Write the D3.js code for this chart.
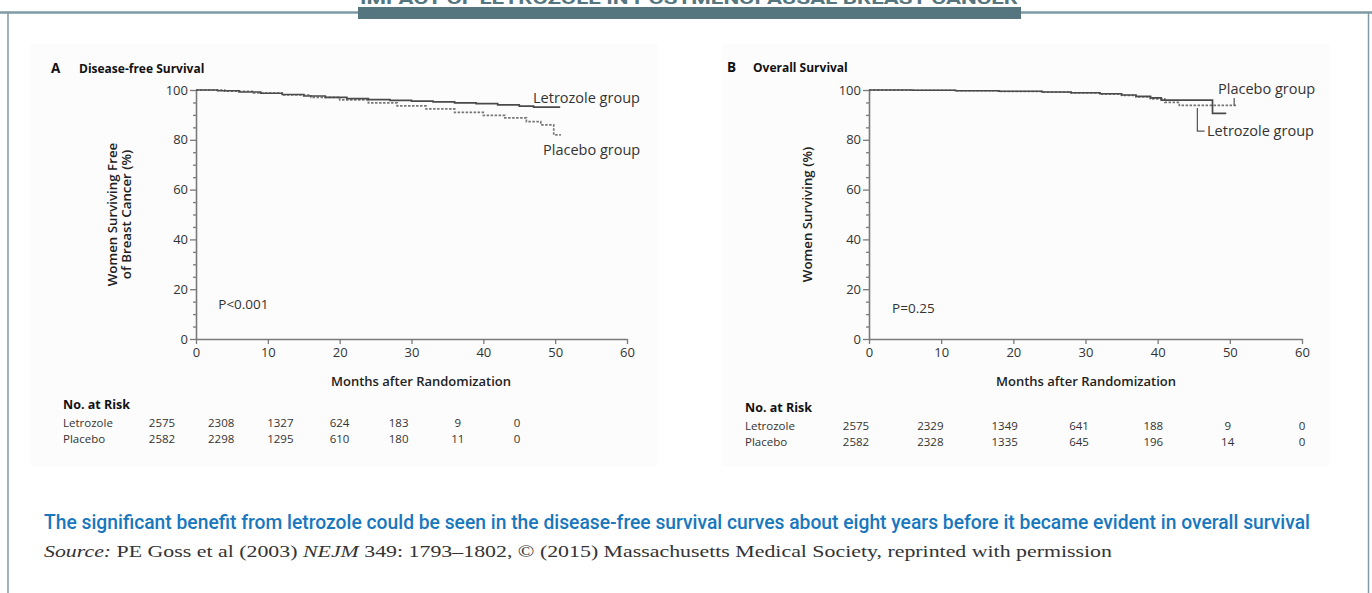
<!DOCTYPE html>
<html><head><meta charset="utf-8">
<script src="https://d3js.org/d3.v7.min.js"></script>
<style>
body{margin:0;background:#fff;}
svg{display:block;}
</style>
</head><body>
<svg id="c" width="1372" height="593"></svg>
<script>
// ---------- data ----------
const monthTicks = [0, 10, 20, 30, 40, 50, 60];
const pctTicks = [0, 20, 40, 60, 80, 100];
const riskGroups = ["Letrozole", "Placebo"];

// Panel A: Disease-free survival (month, %)
const dfsLetrozole = [[0,100],[3,99.7],[6,99.2],[9,98.7],[12,98.2],[15,97.6],[18,97.0],[21,96.5],[24,96.1],[27,95.8],[30,95.5],[33,95.2],[36,94.8],[39,94.5],[42,94.0],[45,93.5],[47,93.1],[50.7,93.1]];
const dfsPlacebo = [[0,100],[4,99.5],[8,98.8],[12,98.0],[16,97.0],[20,96.0],[24,94.8],[28,93.6],[32,92.4],[36,91.0],[40,89.8],[43,88.8],[46,87.3],[48,86.0],[49.8,82.0],[50.8,82.0]];
const dfsRiskLetrozole = [2575, 2308, 1327, 624, 183, 9, 0];
const dfsRiskPlacebo = [2582, 2298, 1295, 610, 180, 11, 0];

// Panel B: Overall survival (month, %)
const osLetrozole = [[0,100],[6,99.9],[12,99.7],[18,99.5],[24,99.2],[28,98.9],[32,98.5],[35,98.0],[37,97.4],[39,96.8],[40.5,95.9],[47.6,90.6],[49.5,90.6]];
const osPlacebo = [[0,100],[6,99.9],[12,99.7],[18,99.4],[24,99.1],[28,98.8],[32,98.3],[35,97.8],[37,97.2],[39,96.4],[41,95.0],[43,93.8],[51,93.8]];
const osRiskLetrozole = [2575, 2329, 1349, 641, 188, 9, 0];
const osRiskPlacebo = [2582, 2328, 1335, 645, 196, 14, 0];

// ---------- drawing ----------
const svg = d3.select("#c");
const FONT = "'Open Sans', 'DejaVu Sans', sans-serif";
const TXT = "#333";
const AX = "#7a7a7a";

// frame + header
const frameCol = "#7f9aa5";
svg.append("line").attr("x1",0).attr("x2",1372).attr("y1",12.5).attr("y2",12.5)
  .attr("stroke",frameCol).attr("stroke-width",2.5);
svg.append("line").attr("x1",8).attr("x2",8).attr("y1",12).attr("y2",593)
  .attr("stroke",frameCol).attr("stroke-width",1.5);
svg.append("line").attr("x1",1368.5).attr("x2",1368.5).attr("y1",12).attr("y2",593)
  .attr("stroke",frameCol).attr("stroke-width",1.5);
svg.append("rect").attr("x",358).attr("y",7).attr("width",663).attr("height",12).attr("fill","#56767f");
svg.append("text").attr("x",360).attr("y",3.5).attr("font-family","Roboto, sans-serif")
  .attr("font-weight",700).attr("font-size",16).attr("fill","#56767f")
  .attr("textLength",658).attr("lengthAdjust","spacingAndGlyphs")
  .text("IMPACT OF LETROZOLE IN POSTMENOPAUSAL BREAST CANCER");

function drawPanel(cfg){
  const g = svg.append("g");
  g.append("rect").attr("x",cfg.box[0]).attr("y",cfg.box[1]).attr("width",cfg.box[2]).attr("height",cfg.box[3])
    .attr("fill","#fcfcfc");
  const x = d3.scaleLinear().domain([0,60]).range(cfg.xr);
  const y = d3.scaleLinear().domain([0,100]).range(cfg.yr);

  // minor y ticks
  const minor = d3.range(0,101,5).filter(v => v % 20 !== 0);
  const gm = g.append("g").attr("transform",`translate(${cfg.xr[0]},0)`)
    .call(d3.axisLeft(y).tickValues(minor).tickSize(3).tickFormat(""));
  gm.select(".domain").remove();
  gm.selectAll("line").attr("stroke",AX).attr("stroke-width",1.3);

  const gy = g.append("g").attr("transform",`translate(${cfg.xr[0]},0)`)
    .call(d3.axisLeft(y).tickValues(pctTicks).tickSize(6).tickSizeOuter(0).tickPadding(2));
  const gx = g.append("g").attr("transform",`translate(0,${cfg.yr[0]})`)
    .call(d3.axisBottom(x).tickValues(monthTicks).tickSize(5).tickSizeOuter(0).tickPadding(4));
  [gx,gy].forEach(a=>{
    a.select(".domain").attr("stroke",AX).attr("stroke-width",1.6);
    a.selectAll(".tick line").attr("stroke",AX).attr("stroke-width",1.3);
    a.selectAll(".tick text").attr("fill",TXT).attr("font-family",FONT).attr("font-size",13);
  });

  // curves
  const line = d3.line().x(d=>x(d[0])).y(d=>y(d[1])).curve(d3.curveStepAfter);
  g.append("path").datum(cfg.placebo).attr("d",line).attr("fill","none")
    .attr("stroke","#777").attr("stroke-width",1.7).attr("stroke-dasharray","2.5,1.5");
  g.append("path").datum(cfg.letrozole).attr("d",line).attr("fill","none")
    .attr("stroke","#4a4a4a").attr("stroke-width",1.7);

  // titles
  const t = g.append("text").attr("x",cfg.titleX).attr("y",cfg.titleY)
    .attr("font-family",FONT).attr("font-weight",700).attr("fill","#111");
  t.append("tspan").attr("font-size",13.5).text(cfg.letter);
  t.append("tspan").attr("x",cfg.titleX+cfg.titleGap).attr("font-size",12).text(cfg.title);

  // y axis title
  const yc = (cfg.yr[0]+cfg.yr[1])/2;
  cfg.yTitle.forEach((s,i)=>{
    g.append("text").attr("transform",`translate(${cfg.yTitleX + i*14},${yc}) rotate(-90)`)
      .attr("text-anchor","middle").attr("font-family",FONT).attr("font-weight",600)
      .attr("font-size",13.3).attr("fill","#222").text(s);
  });
  // x axis title
  g.append("text").attr("x",cfg.xTitleX).attr("y",cfg.yr[0]+47).attr("text-anchor","middle")
    .attr("font-family",FONT).attr("font-weight",600).attr("font-size",13).attr("fill","#222")
    .text("Months after Randomization");

  // P value
  g.append("text").attr("x",x(cfg.pPos[0])).attr("y",y(cfg.pPos[1])).attr("font-family",FONT)
    .attr("font-size",13.5).attr("fill",TXT).text(cfg.p);

  // curve labels
  cfg.labels.forEach(l=>{
    g.append("text").attr("x",l.x).attr("y",l.y).attr("font-family",FONT)
      .attr("font-size",14.5).attr("fill",TXT).text(l.text);
    if(l.leader){
      g.append("path").attr("d",d3.line()(l.leader)).attr("fill","none")
        .attr("stroke","#555").attr("stroke-width",1.2);
    }
  });

  // number at risk table
  g.append("text").attr("x",cfg.riskX).attr("y",cfg.riskY).attr("font-family",FONT)
    .attr("font-weight",700).attr("font-size",12.5).attr("fill","#111").text("No. at Risk");
  const col = d3.scaleLinear().domain([0,6]).range(cfg.riskCols);
  [cfg.riskL, cfg.riskP].forEach((row,ri)=>{
    const ry = cfg.riskY + 18 + ri*cfg.rowGap;
    g.append("text").attr("x",cfg.riskX).attr("y",ry).attr("font-family",FONT)
      .attr("font-size",11.5).attr("fill",TXT).text(riskGroups[ri]);
    g.selectAll(null).data(row).enter().append("text")
      .attr("x",(d,i)=>col(i)).attr("y",ry).attr("text-anchor","middle")
      .attr("font-family",FONT).attr("font-size",11.5).attr("fill",TXT).text(d=>d);
  });
  return {x,y};
}

// Panel A
drawPanel({
  box:[30,44,628,422], xr:[196,627], yr:[339,90],
  letter:"A", title:"Disease-free Survival", titleX:51, titleY:73, titleGap:28,
  yTitle:["Women Surviving Free","of Breast Cancer (%)"], yTitleX:117,
  xTitleX:421, p:"P<0.001", pPos:[3.1,12], 
  letrozole:dfsLetrozole, placebo:dfsPlacebo,
  labels:[{text:"Letrozole group", x:533, y:103},{text:"Placebo group", x:543, y:155}],
  riskX:63, riskY:409, rowGap:16, riskCols:[162,517],
  riskL:dfsRiskLetrozole, riskP:dfsRiskPlacebo
});

// Panel B
const xB = d3.scaleLinear().domain([0,60]).range([869,1302]);
const yB = d3.scaleLinear().domain([0,100]).range([339,90]);
drawPanel({
  box:[722,44,608,422], xr:[869,1302], yr:[339,90],
  letter:"B", title:"Overall Survival", titleX:727, titleY:72, titleGap:26,
  yTitle:["Women Surviving (%)"], yTitleX:812,
  xTitleX:1086, p:"P=0.25", pPos:[3.2,10.5],
  letrozole:osLetrozole, placebo:osPlacebo,
  labels:[
    {text:"Placebo group", x:1218, y:94, leader:[[xB(50.6),yB(96.8)],[xB(50.6),yB(93.8)]]},
    {text:"Letrozole group", x:1207, y:136, leader:[[xB(45.5),yB(92.8)],[xB(45.5),yB(83.5)],[xB(46.5),yB(83.5)]]}
  ],
  riskX:745, riskY:412, rowGap:16, riskCols:[856,1302],
  riskL:osRiskLetrozole, riskP:osRiskPlacebo
});

// caption
svg.append("text").attr("x",44).attr("y",529).attr("font-family","Roboto, sans-serif")
  .attr("font-weight",500).attr("font-size",19.5).attr("fill","#1877bd")
  .attr("textLength",1266).attr("lengthAdjust","spacingAndGlyphs")
  .text("The significant benefit from letrozole could be seen in the disease-free survival curves about eight years before it became evident in overall survival");
const src = svg.append("text").attr("x",44).attr("y",557).attr("font-family","'Liberation Serif', 'DejaVu Serif', serif")
  .attr("font-size",17).attr("fill","#333").attr("textLength",1068).attr("lengthAdjust","spacingAndGlyphs");
src.append("tspan").attr("font-style","italic").text("Source:");
src.append("tspan").text(" PE Goss et al (2003) ");
src.append("tspan").attr("font-style","italic").text("NEJM");
src.append("tspan").text(" 349: 1793–1802, © (2015) Massachusetts Medical Society, reprinted with permission");
</script>
</body></html>
